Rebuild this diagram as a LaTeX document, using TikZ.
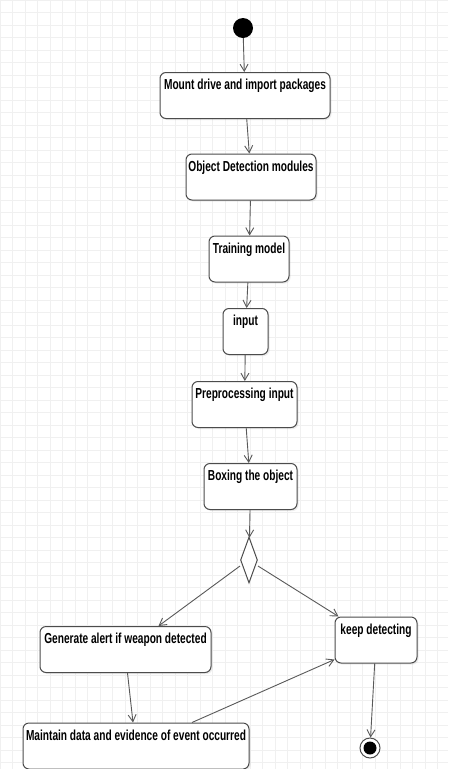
\documentclass[tikz,border=0pt]{standalone}
\usepackage{fontspec}
\newfontfamily\actfont[FakeStretch=0.7]{Liberation Sans}
\usetikzlibrary{arrows.meta,shapes.geometric,shadows,calc}

\begin{document}
\begin{tikzpicture}[
		x=1pt, y=-1pt,
		act/.style={
				rectangle,
				rounded corners=6pt,
				draw=black!70,
				line width=1pt,
				fill=white,
				drop shadow={opacity=0.15, shadow xshift=1.5pt, shadow yshift=-1.5pt},
				minimum width=#1,
				minimum height=46pt,
				inner xsep=2pt, inner ysep=4pt,
				text height=13pt, text depth=25pt,
				font=\actfont\bfseries\fontsize{14.5}{16}\selectfont,
			},
		dot/.style={
				circle,
				fill=black,
				inner sep=0pt,
				minimum size=#1,
				draw=none,
			},
		flow/.style={
				-{Straight Barb[length=7pt,width=8pt]},
				draw=black!65,
				line width=0.9pt,
			},
	]

	\useasboundingbox (0,0) rectangle (448,769);
	\fill[white] (0,0) rectangle (448,769);
	\draw[black!6, line width=0.5pt, step=12.5pt] (0,0) grid (448,769);

	\node[dot=20pt] (start) at (243,28) {};
	\node[act=170pt] (mount) at (245,95.5) {Mount drive and import packages};
	\node[act=130pt] (odm) at (251,177) {Object Detection modules};
	\node[act=80pt] (train) at (249,259) {Training model};
	\node[act=45pt] (input) at (245.5,331.5) {input};
	\node[act=105pt] (prep) at (244.5,404.5) {Preprocessing input};
	\node[act=93pt] (boxing) at (250.5,486.5) {Boxing the object};
	\node[diamond, draw=black!70, line width=1pt, fill=white, inner sep=0pt,
		minimum width=17pt, minimum height=46pt] (choice) at (249,560) {};
	\node[act=171pt] (alert) at (125.5,649.5) {Generate alert if weapon detected};
	\node[act=82pt] (keep) at (376,640) {keep detecting};
	\node[act=226pt] (store) at (136,746) {Maintain data and evidence of event occurred};
	\node[circle, draw=black!70, line width=1pt, fill=white, inner sep=0pt,
		minimum size=20pt] (stop) at (370,748) {};
	\node[dot=13pt] (stopdot) at (stop) {};

	\draw[flow] (start) -- (mount);
	\draw[flow] (mount) -- (odm);
	\draw[flow] (odm) -- (train);
	\draw[flow] (train) -- (input);
	\draw[flow] (input) -- (prep);
	\draw[flow] (prep) -- (boxing);
	\draw[flow] (boxing) -- (choice);
	\draw[flow] ($(choice.west)+(0,6)$) -- ($(alert.north)+(33,0)$);
	\draw[flow] ($(choice.east)+(0,6)$) -- ($(keep.north west)+(4,0)$);
	\draw[flow] ($(alert.south)+(2,0)$) -- ($(store.north)+(-3,0)$);
	\draw[flow] ($(store.north)+(56,0)$) -- ($(keep.south west)+(0,-4)$);
	\draw[flow] (keep) -- (stop);
\end{tikzpicture}
\end{document}
